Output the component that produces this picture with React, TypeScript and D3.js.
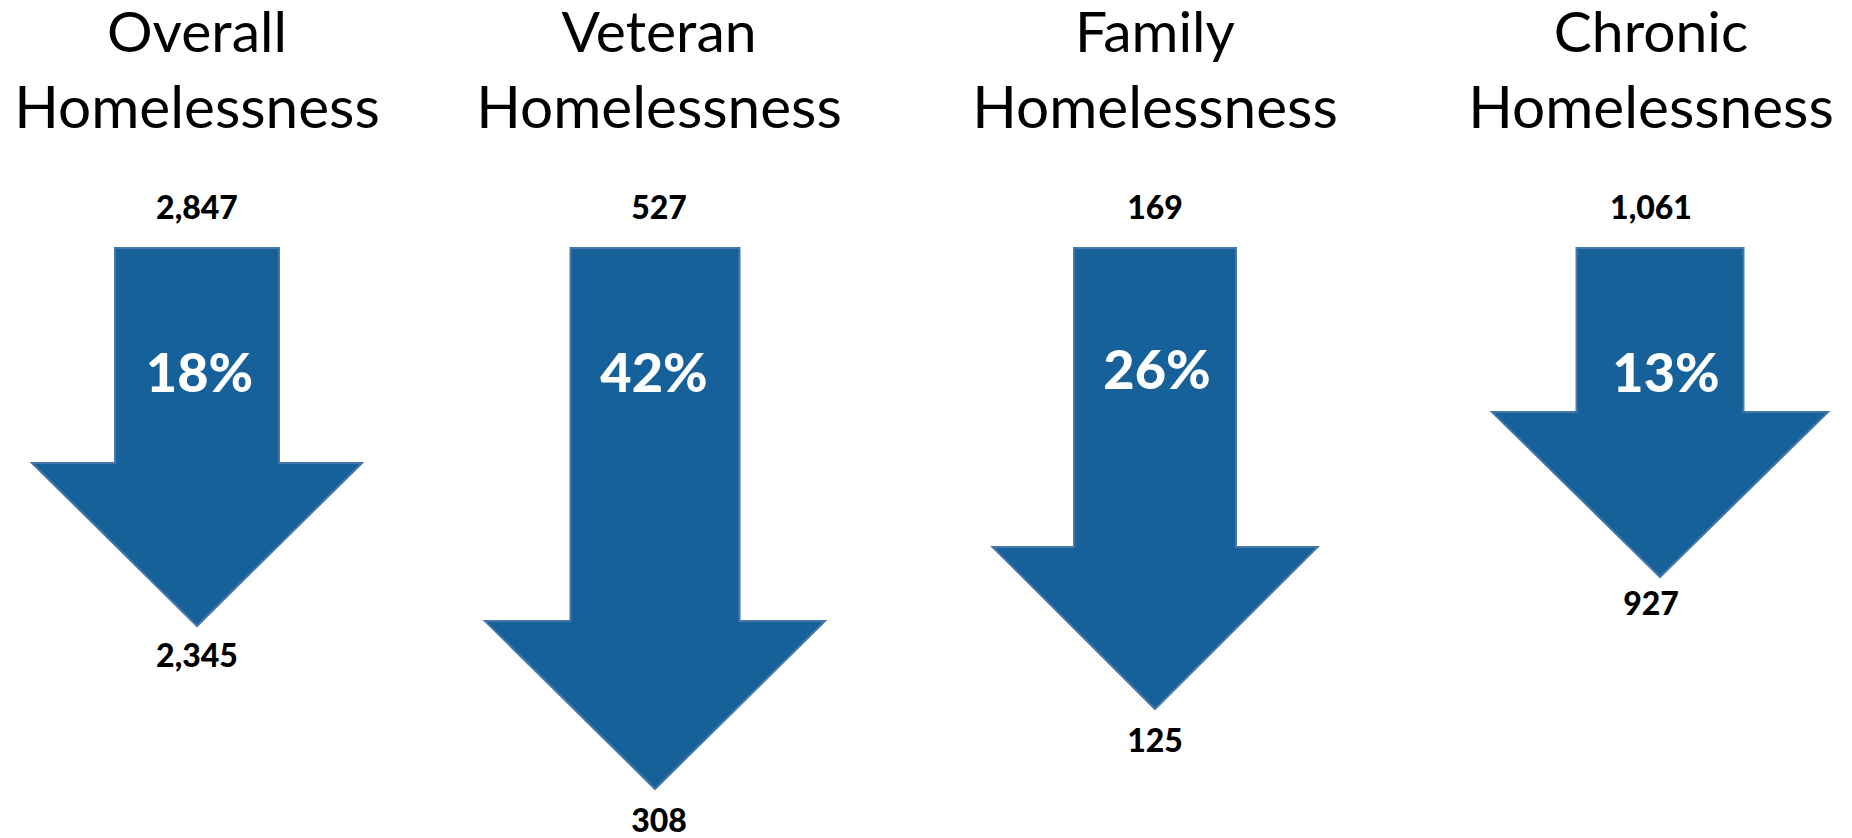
import React from "react";
import * as d3 from "d3";

// ---- data ----
const titleLine1 = ["Overall", "Veteran", "Family", "Chronic"];
const titleLine2 = ["Homelessness", "Homelessness", "Homelessness", "Homelessness"];
const beforeValues = [2847, 527, 169, 1061];
const afterValues = [2345, 308, 125, 927];
const pctDecrease = [18, 42, 26, 13];

// ---- layout ----
const W = 1852;
const H = 838;
const columnCenter = [197, 659, 1155, 1651];
const arrowCenter = [197, 655, 1155, 1660];
const arrowHeadTop = [463, 621, 547, 412];
const arrowTip = [626, 789, 709, 577];
const shaftHalfWidth = [82, 84.5, 81, 83.5];
const headHalfWidth = [165, 170, 162.5, 168];
const pctShiftX = [2.5, -1, 2, 6];
const pctBaseline = [392, 392, 389, 392];
const bottomBaseline = [667, 832, 752, 615];
const shaftTop = 248;

const FILL = "#17619a";
const STROKE = "#4677aa";
const FONT = "Lato, 'Open Sans', sans-serif";

const fmt = d3.format(",");

export default function App() {
  const line = d3.line<[number, number]>();
  return (
    <svg
      width={W}
      height={H}
      viewBox={`0 0 ${W} ${H}`}
      style={{ position: "absolute", left: 0, top: 0, background: "#fff" }}
    >
      {titleLine1.map((t, i) => {
        const cx = arrowCenter[i];
        const sh = shaftHalfWidth[i];
        const hh = headHalfWidth[i];
        const pts: [number, number][] = [
          [cx - sh, shaftTop],
          [cx + sh, shaftTop],
          [cx + sh, arrowHeadTop[i]],
          [cx + hh, arrowHeadTop[i]],
          [cx, arrowTip[i]],
          [cx - hh, arrowHeadTop[i]],
          [cx - sh, arrowHeadTop[i]],
        ];
        const d = line(pts) + "Z";
        return (
          <g key={t}>
            <text
              x={columnCenter[i]}
              y={52}
              textAnchor="middle"
              fontFamily={FONT}
              fontSize={57}
              fill="#000"
            >
              {t}
            </text>
            <text
              x={columnCenter[i]}
              y={128}
              textAnchor="middle"
              fontFamily={FONT}
              fontSize={58.5}
              fill="#000"
            >
              {titleLine2[i]}
            </text>
            <text
              x={columnCenter[i]}
              y={219}
              textAnchor="middle"
              fontFamily={FONT}
              fontWeight={900}
              fontSize={32}
              fill="#000"
            >
              {fmt(beforeValues[i])}
            </text>
            <path d={d} fill={FILL} stroke={STROKE} strokeWidth={2} strokeLinejoin="miter" />
            <text
              x={cx + pctShiftX[i]}
              y={pctBaseline[i]}
              textAnchor="middle"
              fontFamily={FONT}
              fontWeight={900}
              fontSize={54}
              fill="#fff"
            >
              {pctDecrease[i] + "%"}
            </text>
            <text
              x={columnCenter[i]}
              y={bottomBaseline[i]}
              textAnchor="middle"
              fontFamily={FONT}
              fontWeight={900}
              fontSize={32}
              fill="#000"
            >
              {fmt(afterValues[i])}
            </text>
          </g>
        );
      })}
    </svg>
  );
}
